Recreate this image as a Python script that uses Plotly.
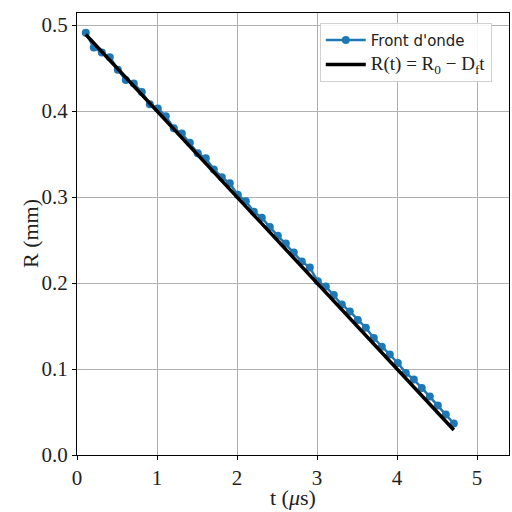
import plotly.graph_objects as go

# Data
t_us = [0.11, 0.21, 0.31, 0.41, 0.51, 0.61, 0.71, 0.81, 0.91, 1.01,
        1.11, 1.21, 1.31, 1.41, 1.51, 1.61, 1.71, 1.81, 1.91, 2.01,
        2.11, 2.21, 2.31, 2.41, 2.51, 2.61, 2.71, 2.81, 2.91, 3.01,
        3.11, 3.21, 3.31, 3.41, 3.51, 3.61, 3.71, 3.81, 3.91, 4.01,
        4.11, 4.21, 4.31, 4.41, 4.51, 4.61, 4.71]
R_mm = [0.491, 0.474, 0.468, 0.4625, 0.448, 0.436, 0.432, 0.422, 0.408, 0.403,
        0.394, 0.380, 0.374, 0.363, 0.351, 0.345, 0.332, 0.323, 0.316, 0.3025,
        0.295, 0.283, 0.276, 0.265, 0.255, 0.246, 0.2355, 0.225, 0.218, 0.202,
        0.196, 0.186, 0.175, 0.167, 0.157, 0.148, 0.136, 0.126, 0.117, 0.107,
        0.0955, 0.0877, 0.078, 0.068, 0.0575, 0.047, 0.0366]

R0 = 0.5
Df = 0.1
fit_t = [t_us[0], t_us[-1]]
fit_R = [R0 - Df * t for t in fit_t]

x_ticks = [0, 1, 2, 3, 4, 5]
y_ticks = [0.0, 0.1, 0.2, 0.3, 0.4, 0.5]

serif = "Liberation Serif"

fig = go.Figure()
fig.add_trace(go.Scatter(
    x=t_us, y=R_mm, mode="lines+markers", name="Front d'onde",
    legendgroup="a",
    line=dict(color="#1f77b4", width=2.5),
    marker=dict(color="#1f77b4", size=8),
))
fig.add_trace(go.Scatter(
    x=fit_t, y=fit_R, mode="lines", legendgroup="b",
    name='<span style="font-family:Liberation Serif;font-size:19px">R(t) = R<sub>0</sub> − D<sub>f</sub>t</span>',
    line=dict(color="black", width=3.5),
))

axis_common = dict(
    showgrid=True, gridcolor="#b0b0b0", gridwidth=1,
    showline=True, linecolor="black", linewidth=1, mirror=True,
    ticks="outside", ticklen=4, tickcolor="black",
    tickfont=dict(family=serif, size=21, color="#222"),
    zeroline=False, automargin=False,
)

fig.update_layout(
    width=512, height=512,
    margin=dict(l=77, r=3, t=13, b=57),
    paper_bgcolor="white", plot_bgcolor="white",
    xaxis=dict(range=[0, 5.4], tickvals=x_ticks, ticktext=[str(v) for v in x_ticks],
               **axis_common),
    yaxis=dict(range=[0, 0.514], tickvals=y_ticks, ticktext=[f"{v:.1f}" for v in y_ticks],
               **axis_common),
    legend=dict(x=0.562, y=0.978, xanchor="left", yanchor="top",
                bgcolor="rgba(255,255,255,0.9)", bordercolor="#d0d0d0", borderwidth=1,
                font=dict(family="DejaVu Sans", size=15, color="#222"),
                itemwidth=40, tracegroupgap=2),
    showlegend=True,
    annotations=[
        dict(text="t (<i>μ</i>s)", xref="paper", yref="paper", x=0.5, y=0,
             xanchor="center", yanchor="middle", yshift=-42, showarrow=False,
             font=dict(family=serif, size=22, color="#222")),
        dict(text="R (mm)", xref="paper", yref="paper", x=0, y=0.5,
             xanchor="center", yanchor="middle", xshift=-47, textangle=-90,
             showarrow=False, font=dict(family=serif, size=22, color="#222")),
    ],
)

fig.write_html("out.html", config={"displayModeBar": False},
               post_script="document.body.style.margin='0';")
